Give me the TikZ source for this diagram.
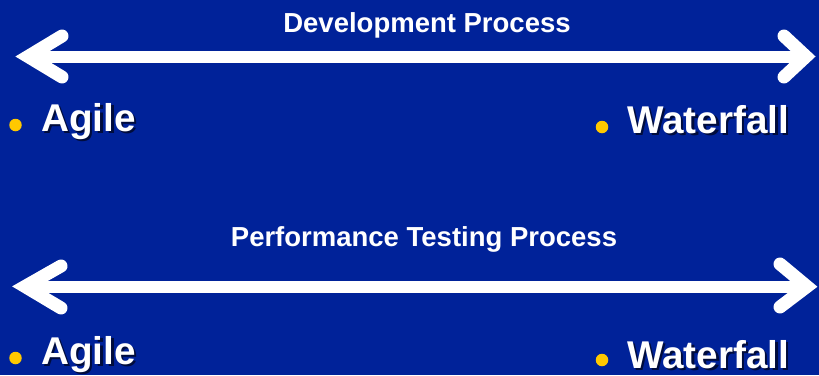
\documentclass[tikz,border=0pt]{standalone}
\usepackage{fontspec}
\setmainfont{Liberation Sans}
\definecolor{slideblue}{RGB}{0,34,153}
\definecolor{bulletgold}{RGB}{255,200,0}
\definecolor{textshadow}{RGB}{0,12,60}
\tikzset{
  bigarrow/.style={white, line width=12pt},
  arrowhead/.style={white, line width=13pt, line cap=round, line join=miter},
  heading/.style={text=white, font=\fontsize{27.5}{30}\selectfont\bfseries, anchor=base, inner sep=0pt},
  choice/.style={text=white, font=\fontsize{38.7}{40}\selectfont\bfseries, anchor=base west, inner sep=0pt},
  dot/.style={circle, fill=bulletgold, minimum size=12.5pt, inner sep=0pt}
}
% bold label with a dark drop shadow behind it
\newcommand{\shadowed}[1]{%
  \makebox[0pt][l]{\hspace{2.5pt}\raisebox{-2.5pt}{\textcolor{textshadow}{#1}}}#1}
\begin{document}
\begin{tikzpicture}[x=1pt,y=-1pt]
  \fill[slideblue] (0,0) rectangle (819,375);
  \useasboundingbox (0,0) rectangle (819,375);

  % Development process scale
  \node[heading] (devtitle) at (427,32) {Development Process};
  \coordinate (devL) at (28,56.5);
  \coordinate (devR) at (806,56.5);
  \draw[bigarrow] (devL) -- (devR);
  \draw[arrowhead] (62,36) -- (devL) -- (62,77);
  \draw[arrowhead] (784,36) -- (devR) -- (784,77);

  \node[dot] (devdotA) at (15.5,125) {};
  \node[choice] (devagile) at (41,131) {\shadowed{Agile}};
  \node[dot] (devdotW) at (602,127) {};
  \node[choice] (devwater) at (627,133) {\shadowed{Waterfall}};

  % Performance testing process scale
  \node[heading] (perftitle) at (424,246) {Performance Testing Process};
  \coordinate (perfL) at (25,286.5);
  \coordinate (perfR) at (807,286.5);
  \draw[bigarrow] (perfL) -- (perfR);
  \draw[arrowhead] (61,266) -- (perfL) -- (61,308);
  \draw[arrowhead] (780,264) -- (perfR) -- (780,307);

  \node[dot] (perfdotA) at (15.5,358) {};
  \node[choice] (perfagile) at (41,364) {\shadowed{Agile}};
  \node[dot] (perfdotW) at (602,360) {};
  \node[choice] (perfwater) at (627,368) {\shadowed{Waterfall}};
\end{tikzpicture}
\end{document}
